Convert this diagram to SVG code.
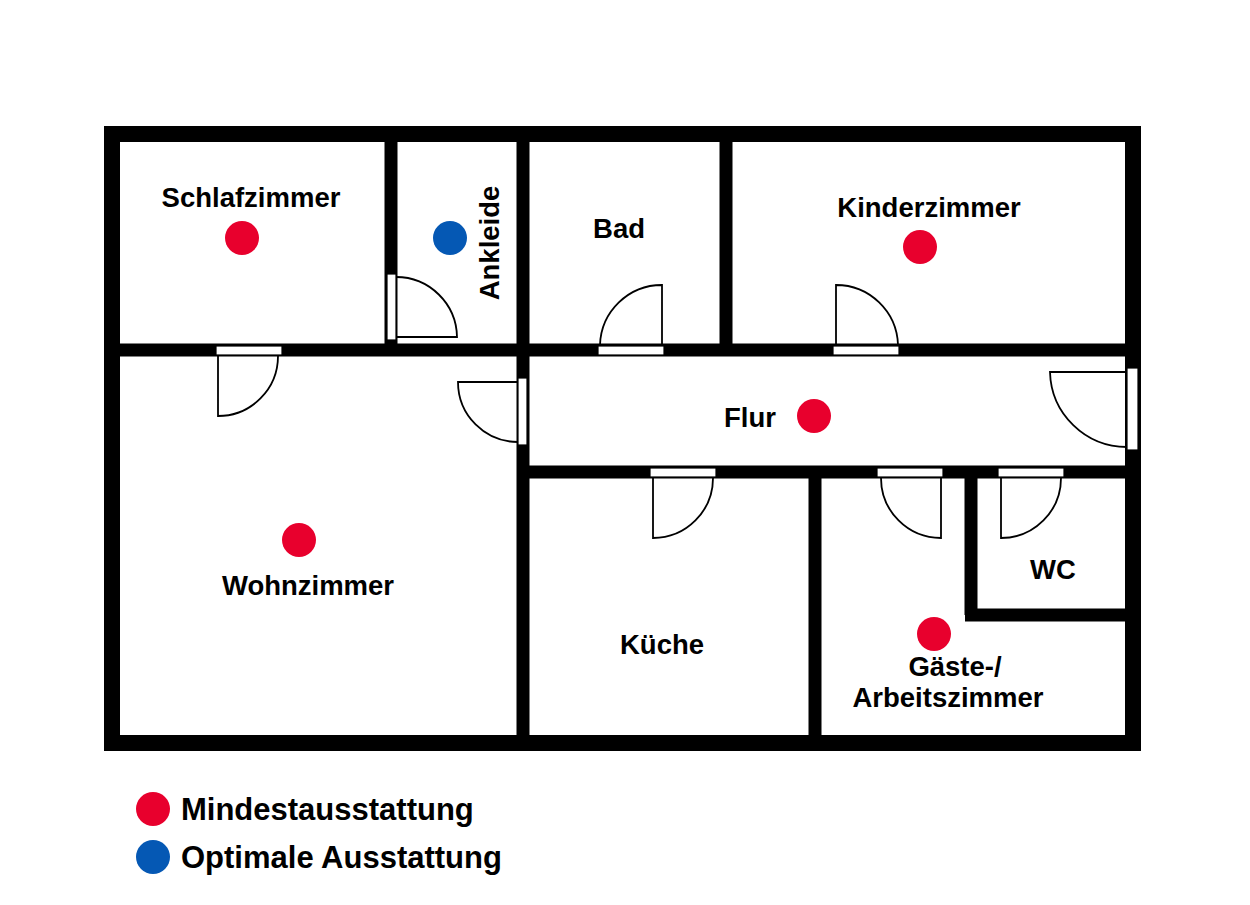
<svg xmlns="http://www.w3.org/2000/svg" width="1250" height="905" viewBox="0 0 1250 905">
<style>
.w{fill:none;stroke:#000;stroke-width:13}
.sill{fill:#fff;stroke:#000;stroke-width:1.2}
.leaf{fill:none;stroke:#000;stroke-width:1.8}
.t{font-family:"Liberation Sans",Arial,sans-serif;font-weight:bold;font-size:27.5px;fill:#000;text-anchor:middle}
.lg{font-family:"Liberation Sans",Arial,sans-serif;font-weight:bold;font-size:31px;fill:#000}
.r{fill:#e8002d}.b{fill:#0558b4}
</style>
<rect width="1250" height="905" fill="#fff"/>
<g id="walls">
<rect x="112" y="134" width="1021" height="609" fill="none" stroke="#000" stroke-width="16"/>
<line class="w" x1="120" y1="350" x2="1125" y2="350"/>
<line class="w" x1="523" y1="472" x2="1125" y2="472"/>
<line class="w" x1="391" y1="142" x2="391" y2="350"/>
<line class="w" x1="523" y1="142" x2="523" y2="736"/>
<line class="w" x1="726" y1="142" x2="726" y2="350"/>
<line class="w" x1="815" y1="472" x2="815" y2="736"/>
<line class="w" x1="971" y1="472" x2="971" y2="615"/>
<line class="w" x1="965" y1="615" x2="1125" y2="615"/>
</g>
<g id="doors">
<rect class="sill" x="216" y="346" width="66" height="9"/>
<path class="leaf" d="M218 356 V416 A60 60 0 0 0 278 356"/>
<rect class="sill" x="387" y="274" width="9" height="66"/>
<path class="leaf" d="M396 277 A61 61 0 0 1 457 337 H396"/>
<rect class="sill" x="518" y="378" width="9" height="67"/>
<path class="leaf" d="M518 382 H458 A60 60 0 0 0 518 442"/>
<rect class="sill" x="598" y="346" width="66" height="9"/>
<path class="leaf" d="M662 345 V285 A62 62 0 0 0 600 345"/>
<rect class="sill" x="833" y="346" width="66" height="9"/>
<path class="leaf" d="M836 345 V285 A62 62 0 0 1 898 345"/>
<rect class="sill" x="1127" y="368" width="11" height="82"/>
<path class="leaf" d="M1127 372 H1050 A77 77 0 0 0 1127 447"/>
<rect class="sill" x="650" y="468" width="66" height="9"/>
<path class="leaf" d="M653 478 V538 A60 60 0 0 0 713 478"/>
<rect class="sill" x="877" y="468" width="66" height="9"/>
<path class="leaf" d="M941 478 V538 A60 60 0 0 1 881 478"/>
<rect class="sill" x="998" y="468" width="66" height="9"/>
<path class="leaf" d="M1001 478 V538 A60 60 0 0 0 1061 478"/>
</g>
<g id="schlafzimmer"><text class="t" x="251" y="207">Schlafzimmer</text><circle class="r" cx="242" cy="238" r="17"/></g>
<g id="ankleide"><text class="t" transform="translate(499,243) rotate(-90)">Ankleide</text><circle class="b" cx="450" cy="238" r="17"/></g>
<g id="bad"><text class="t" x="619" y="238">Bad</text></g>
<g id="kinderzimmer"><text class="t" x="929" y="217">Kinderzimmer</text><circle class="r" cx="920" cy="247" r="17"/></g>
<g id="flur"><text class="t" x="750" y="427">Flur</text><circle class="r" cx="814" cy="416" r="17"/></g>
<g id="wohnzimmer"><text class="t" x="308" y="595">Wohnzimmer</text><circle class="r" cx="299" cy="540" r="17"/></g>
<g id="kueche"><text class="t" x="662" y="654">Küche</text></g>
<g id="wc"><text class="t" x="1053" y="579">WC</text></g>
<g id="gaeste"><circle class="r" cx="934" cy="634" r="17"/><text class="t" x="955" y="676">Gäste-/</text><text class="t" x="948" y="707">Arbeitszimmer</text></g>
<g id="legend">
<circle class="r" cx="153" cy="809" r="17"/><text class="lg" x="181" y="820">Mindestausstattung</text>
<circle class="b" cx="153" cy="857" r="17"/><text class="lg" x="181" y="868">Optimale Ausstattung</text>
</g>
<g id="connectors"/>
</svg>
